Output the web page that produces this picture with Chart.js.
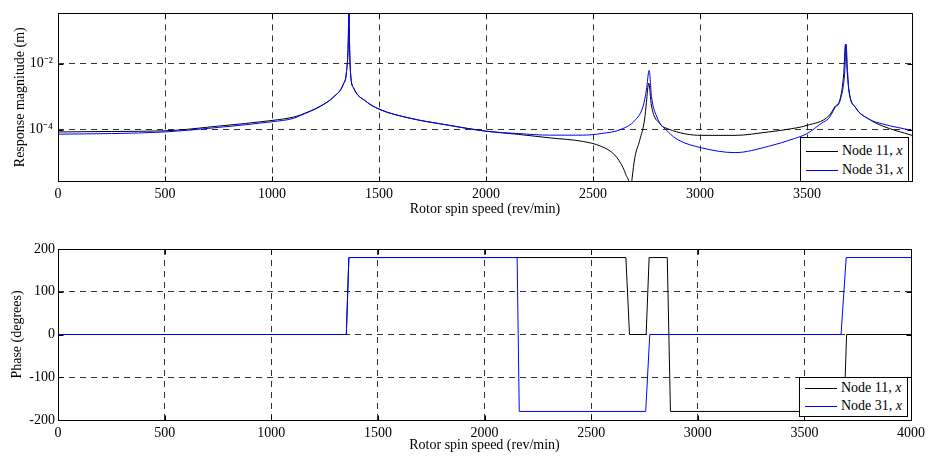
<!DOCTYPE html>
<html>
<head>
<meta charset="utf-8">
<script src="https://cdn.jsdelivr.net/npm/chart.js@4.4.1/dist/chart.umd.min.js"></script>
<style>
    body { margin: 0; background: #fff; }
    .paneel { position: absolute; left: 0; width: 928px; height: 228px; }
    .legend {
        position: absolute; box-sizing: border-box; background: #fff; border: 1px solid #000;
        font: 14px "Liberation Serif", "Times New Roman", serif; color: #000;
    }
    .rida { position: absolute; left: 5px; height: 18px; line-height: 18px; white-space: nowrap; }
    .joon { display: inline-block; width: 32px; height: 0; border-top: 1px solid; vertical-align: middle; margin-right: 4px; }
</style>
</head>
<body>
<div class="paneel" style="top:0"><canvas id="amplituud"></canvas></div>
<div class="paneel" style="top:228px"><canvas id="faas"></canvas></div>
<div class="legend" id="legend1"></div>
<div class="legend" id="legend2"></div>
<script>
// Sõlmede nimed ja joonte värvid (legendis lisatakse kursiivis "x")
const solmed = ['Node 11', 'Node 31'];
const varvid = ['#000000', '#0000ff'];

// x-telje jaotised
const xJaotised = [0, 500, 1000, 1500, 2000, 2500, 3000, 3500, 4000];

// Amplituudi y-telje jaotised ja sildid
const amplJaotised = [1e-4, 1e-2];
const amplSildid = ['10⁻⁴', '10⁻²'];

// Faasi y-telje jaotised
const faasJaotised = [-200, -100, 0, 100, 200];

// Node 11 amplituud (m)
const solm11Kiirus = [0, 250, 500, 750, 1000, 1100, 1133, 1226, 1289, 1333, 1348, 1356, 1359, 1362, 1367, 1382, 1437, 1500, 1648, 1800,
    2004, 2150, 2300, 2450, 2538, 2601, 2640, 2655, 2666, 2675, 2682, 2695, 2718, 2741, 2749, 2760, 2773, 2812, 2851,
    3007, 3163, 3319, 3400, 3500, 3601, 3630, 3655, 3671, 3679, 3687, 3695, 3726, 3788, 3851, 3990];
const solm11Ampl = [8.5e-5, 8.8e-5, 9.2e-5, 1.28e-4, 1.9e-4, 2.4e-4, 2.8e-4, 5.2e-4, 1.0e-3, 2.4e-3, 5.8e-3, 4.5e-2, 0.6, 4e-2, 5e-3, 1.8e-3, 7.4e-4, 4.2e-4, 2.2e-4, 1.45e-4,
    8.9e-5, 7.2e-5, 5.6e-5, 4.4e-5, 3.1e-5, 1.7e-5, 7e-6, 4e-6, 2.8e-6, 1.2e-6, 3.2e-6, 1.4e-5, 4.8e-5, 2.1e-4, 6.6e-4, 2.6e-3, 5.2e-4, 1.5e-4, 1.05e-4,
    6.7e-5, 6.7e-5, 8.5e-5, 1.0e-4, 1.35e-4, 2.6e-4, 5.0e-4, 9.0e-4, 5e-3, 3.9e-2, 6e-3, 1.6e-3, 4.7e-4, 2.1e-4, 1.3e-4, 6.7e-5];

// Node 31 amplituud (m)
const solm31Kiirus = [0, 250, 500, 750, 1000, 1100, 1133, 1226, 1289, 1333, 1348, 1356, 1359, 1362, 1367, 1382, 1437, 1500, 1648, 1800,
    2004, 2150, 2300, 2450, 2538, 2632, 2695, 2734, 2749, 2762, 2773, 2796, 2851, 2900,
    3007, 3163, 3319, 3442, 3500, 3569, 3601, 3630, 3655, 3676, 3682, 3689, 3695, 3726, 3788, 3851, 3990];
const solm31Ampl = [7.3e-5, 7.6e-5, 8.5e-5, 1.17e-4, 1.74e-4, 2.2e-4, 2.7e-4, 5.1e-4, 1.0e-3, 2.4e-3, 5.8e-3, 4.5e-2, 0.6, 4e-2, 5e-3, 1.8e-3, 7.4e-4, 4.2e-4, 2.2e-4, 1.45e-4,
    8.9e-5, 7.6e-5, 6.8e-5, 6.8e-5, 7.6e-5, 1.03e-4, 1.9e-4, 5.2e-4, 1.6e-3, 6.3e-3, 1.0e-3, 2.6e-4, 8.5e-5, 4.8e-5,
    2.8e-5, 2.0e-5, 3.1e-5, 5.4e-5, 7.6e-5, 1.6e-4, 2.2e-4, 4.6e-4, 8.0e-4, 6e-3, 4e-2, 6e-3, 1.6e-3, 4.7e-4, 2.1e-4, 1.5e-4, 9.5e-5];

// Faas (kraadides)
const solm11FaasKiirus = [0, 1352, 1364, 2663, 2680, 2758, 2772, 2857, 2872, 3686, 3698, 4000];
const solm11Faas = [0, 0, 180, 180, 0, 0, 180, 180, -180, -180, 0, 0];
const solm31FaasKiirus = [0, 1352, 1364, 2153, 2163, 2756, 2775, 3672, 3696, 4000];
const solm31Faas = [0, 0, 180, 180, -180, -180, 0, 0, 180, 180];

const font = { family: '"Liberation Serif", "Times New Roman", serif', size: 14 };

// Paarid {x, y} joonistamiseks
function punktid(xid, yd) {
    return xid.map((x, i) => ({ x: x, y: yd[i] }));
}

// Legendi sisu HTML-is
function teeLegend(id) {
    const el = document.getElementById(id);
    el.innerHTML = solmed.map((nimi, i) =>
        `<div class="rida"><span class="joon" style="border-color:${varvid[i]}"></span>${nimi}, <i>x</i></div>`).join('');
    return el;
}

// MATLAB-laadne raam, sissepoole jaotised, legendi asukoht
const raamJaLegend = {
    id: 'raamJaLegend',
    afterDraw(chart, args, opts) {
        const { ctx, chartArea: a, scales } = chart;
        const L = Math.round(a.left) + 0.5, R = Math.round(a.right) + 0.5;
        const T = Math.round(a.top) + 0.5, B = Math.round(a.bottom) + 0.5;
        ctx.save();
        ctx.strokeStyle = '#000';
        ctx.lineWidth = 1;
        ctx.setLineDash([]);
        ctx.beginPath();
        scales.x.ticks.forEach(t => {
            const px = Math.round(scales.x.getPixelForValue(t.value)) + 0.5;
            ctx.moveTo(px, B); ctx.lineTo(px, B - 5);
            ctx.moveTo(px, T); ctx.lineTo(px, T + 5);
        });
        scales.y.ticks.forEach(t => {
            const py = Math.round(scales.y.getPixelForValue(t.value)) + 0.5;
            ctx.moveTo(L, py); ctx.lineTo(L + 5, py);
            ctx.moveTo(R, py); ctx.lineTo(R - 5, py);
        });
        ctx.stroke();
        ctx.strokeRect(L, T, R - L, B - T);
        ctx.restore();

        // legendikast paremasse alanurka
        const el = teeLegend(opts.id);
        const ylemine = chart.canvas.parentNode.offsetTop;
        el.style.left = (Math.round(a.right) - opts.parem - opts.laius) + 'px';
        el.style.top = (ylemine + Math.round(a.bottom) - opts.all - opts.korgus) + 'px';
        el.style.width = (opts.laius + 1) + 'px';
        el.style.height = (opts.korgus + 1) + 'px';
        el.querySelectorAll('.rida').forEach((r, i) => { r.style.top = (opts.rida - 10 + i * opts.vahe) + 'px'; });
    }
};

// Katkendlik ruudustik, servadel peidetud
function ruudustik(serv) {
    return {
        drawTicks: false,
        lineWidth: 1,
        color: c => serv(c.tick && c.tick.value) ? 'rgba(0,0,0,0)' : 'rgba(0,0,0,0.8)'
    };
}

function xTelg(max, korgus, siltVahe, pealkirjaAlla) {
    return {
        type: 'linear',
        min: 0,
        max: max,
        afterBuildTicks: s => { s.ticks = xJaotised.filter(v => v <= max).map(v => ({ value: v })); },
        afterFit: s => { s.height = korgus; s.paddingLeft = 0; s.paddingRight = 0; },
        ticks: { color: '#000', font: font, padding: siltVahe, autoSkip: false, maxRotation: 0, callback: v => String(v) },
        grid: ruudustik(v => v === 0 || v === max),
        border: { display: false, dash: [6, 5] },
        title: { display: true, text: 'Rotor spin speed (rev/min)', color: '#000', font: font, padding: { top: 0, bottom: pealkirjaAlla } }
    };
}

// Amplituudi graafik
new Chart(document.getElementById('amplituud'), {
    type: 'line',
    data: {
        datasets: [
            { label: 'Node 11, x', data: punktid(solm11Kiirus, solm11Ampl), borderColor: varvid[0], borderWidth: 1, pointRadius: 0, cubicInterpolationMode: 'monotone', order: 2 },
            { label: 'Node 31, x', data: punktid(solm31Kiirus, solm31Ampl), borderColor: varvid[1], borderWidth: 1, pointRadius: 0, cubicInterpolationMode: 'monotone', order: 1 }
        ]
    },
    options: {
        animation: false,
        responsive: true,
        maintainAspectRatio: false,
        layout: { padding: { top: 8, right: 16, left: 0, bottom: 0 } },
        plugins: {
            legend: { display: false },
            tooltip: { enabled: false },
            raamJaLegend: { id: 'legend1', laius: 108, korgus: 44, parem: 4, all: 0, rida: 14, vahe: 19 }
        },
        scales: {
            x: xTelg(3990, 47, 5, 10),
            y: {
                type: 'logarithmic',
                min: 2.75e-6,
                max: 0.34,
                afterBuildTicks: s => { s.ticks = amplJaotised.map(v => ({ value: v })); },
                afterFit: s => { s.width = 58; },
                ticks: { color: '#000', font: font, padding: 5, callback: (v, i) => amplSildid[i] },
                grid: ruudustik(() => false),
                border: { display: false, dash: [6, 5] },
                title: { display: true, text: 'Response magnitude (m)', color: '#000', font: font, padding: { top: 12, bottom: 0 } }
            }
        }
    },
    plugins: [raamJaLegend]
});

// Faasi graafik
new Chart(document.getElementById('faas'), {
    type: 'line',
    data: {
        datasets: [
            { label: 'Node 11, x', data: punktid(solm11FaasKiirus, solm11Faas), borderColor: varvid[0], borderWidth: 1, pointRadius: 0, tension: 0, order: 2 },
            { label: 'Node 31, x', data: punktid(solm31FaasKiirus, solm31Faas), borderColor: varvid[1], borderWidth: 1, pointRadius: 0, tension: 0, order: 1 }
        ]
    },
    options: {
        animation: false,
        responsive: true,
        maintainAspectRatio: false,
        layout: { padding: { top: 21, right: 17, left: 0, bottom: 0 } },
        plugins: {
            legend: { display: false },
            tooltip: { enabled: false },
            raamJaLegend: { id: 'legend2', laius: 108, korgus: 39, parem: 4, all: 4, rida: 11, vahe: 18 }
        },
        scales: {
            x: xTelg(4000, 36, 5, 2),
            y: {
                type: 'linear',
                min: -200,
                max: 200,
                afterBuildTicks: s => { s.ticks = faasJaotised.map(v => ({ value: v })); },
                afterFit: s => { s.width = 58; },
                ticks: { color: '#000', font: font, padding: 3 },
                grid: ruudustik(v => v === -200 || v === 200),
                border: { display: false, dash: [6, 5] },
                title: { display: true, text: 'Phase (degrees)', color: '#000', font: font, padding: { top: 9, bottom: 0 } }
            }
        }
    },
    plugins: [raamJaLegend]
});
</script>
</body>
</html>
